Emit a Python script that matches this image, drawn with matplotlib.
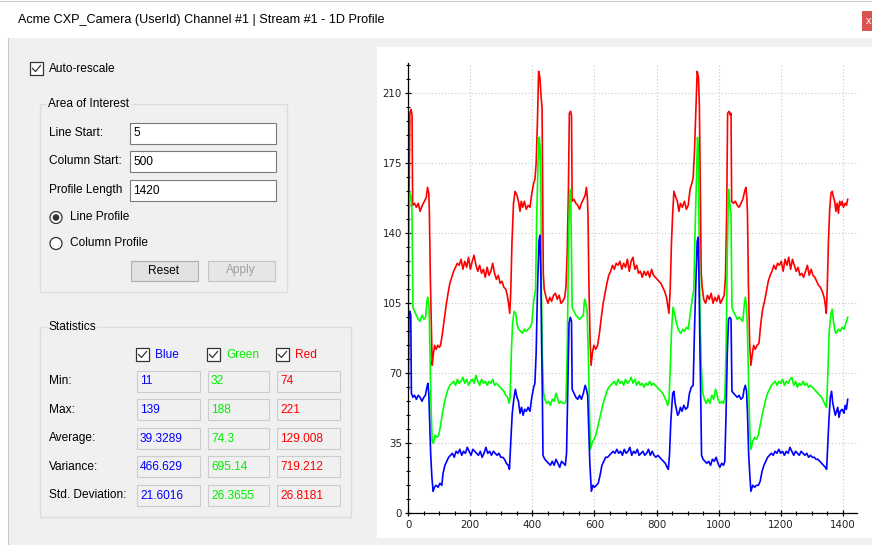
import numpy as np
import matplotlib
matplotlib.use("Agg")
import matplotlib.pyplot as plt
from matplotlib.patches import Rectangle, Circle
from matplotlib.ticker import MultipleLocator

# profile data (x = pixel column, y = grey level)
red_pts = [(2,150),(5,200),(9,202),(12,199),(14,154),(20,155),(26,153),(32,155),(38,151),(45,154),(52,156),(58,158),
    (62,163),(66,160),(68,150),(71,118),(74,95),(77,74),(81,80),(85,84),(90,82),(95,84),(100,83),(104,84),(110,90),
    (116,97),(122,104),(128,110),(134,115),(140,118),(146,121),(152,123),(158,125),(164,124),(170,127),(176,122),
    (182,126),(188,123),(194,128),(200,122),(206,126),(212,129),(218,124),(224,121),(230,124),(236,120),(242,122),
    (248,118),(254,123),(260,119),(266,121),(272,125),(278,120),(284,117),(290,119),(296,115),(302,116),(308,113),
    (314,112),(319,109),(323,105),(327,100),(330,110),(334,135),(339,155),(344,161),(350,159),(355,156),(360,151),
    (364,156),(369,153),(374,156),(380,152),(386,154),(392,153),(398,160),(404,165),(408,167),(412,175),(416,195),
    (420,221),(424,218),(428,208),(431,203),(433,160),(435,120),(438,112),(444,108),(450,105),(456,108),(462,106),
    (468,109),(474,110),(480,107),(486,109),(492,105),(498,106),(504,108),(508,113),(512,130),(516,162),(519,200),
    (523,201),(526,199),(528,156),(534,157),(540,155),(546,154),(552,152),(558,155),(564,157),(570,159),(574,163),
    (577,158),(579,150),(582,115),(586,85),(589,74),(593,80),(598,84),(604,82),(610,84),(616,90),(622,98),(628,105),
    (634,110),(640,115),(646,119),(652,121),(658,124),(664,122),(670,125),(676,124),(682,126),(688,122),(694,125),
    (700,123),(706,127),(712,121),(718,126),(724,128),(730,122),(736,124),(742,120),(748,121),(754,118),(760,121),
    (766,119),(772,121),(778,118),(784,122),(790,119),(796,118),(802,117),(808,116),(814,115),(820,113),(826,111),
    (832,108),(836,104),(840,100),(844,112),(848,135),(852,150),(856,161),(862,158),(867,156),(872,151),(877,155),
    (883,153),(890,156),(896,152),(902,154),(908,162),(914,165),(918,168),(922,180),(926,198),(931,221),(935,218),
    (938,204),(941,160),(944,120),(947,113),(952,107),(958,105),(964,109),(970,107),(976,110),(982,105),(988,108),
    (994,106),(1000,109),(1006,105),(1012,107),(1018,109),(1022,118),(1026,150),(1029,200),(1034,201),(1038,199),
    (1040,200),(1042,156),(1048,155),(1054,156),(1060,154),(1066,153),(1072,155),(1078,157),(1084,161),(1088,163),
    (1091,158),(1093,150),(1096,115),(1100,85),(1104,74),(1108,79),(1113,84),(1118,82),(1124,84),(1130,85),
    (1136,95),(1142,102),(1148,106),(1154,111),(1160,116),(1166,119),(1172,121),(1178,124),(1184,122),(1190,125),
    (1196,124),(1202,126),(1208,121),(1214,127),(1220,124),(1226,128),(1232,122),(1238,127),(1244,124),(1250,121),
    (1256,123),(1262,119),(1268,120),(1274,118),(1280,121),(1286,124),(1292,119),(1298,122),(1304,119),(1310,118),
    (1316,116),(1322,114),(1328,113),(1334,111),(1340,108),(1344,104),(1347,100),(1350,112),(1354,136),(1358,152),
    (1362,160),(1366,161),(1370,158),(1374,156),(1378,151),(1382,155),(1386,150),(1390,156),(1394,154),(1398,156),
    (1402,153),(1408,155),(1412,154),(1416,157)]

green_pts = [(0,100),(3,155),(6,160),(9,158),(12,150),(15,103),(20,101),(26,99),(32,97),(38,96),(44,99),(50,97),
    (56,98),(60,106),(63,108),(67,103),(70,80),(73,55),(77,36),(81,35),(86,39),(92,38),(98,39),(104,44),(110,50),
    (116,55),(122,59),(128,62),(134,64),(140,65),(146,66),(152,64),(158,67),(164,65),(170,66),(176,68),(182,65),
    (188,67),(194,64),(200,66),(206,67),(212,65),(218,69),(224,66),(230,64),(236,67),(242,65),(248,66),(254,64),
    (260,66),(266,65),(272,67),(278,64),(284,65),(290,64),(296,63),(302,62),(308,61),(314,59),(320,58),(325,55),
    (328,58),(332,80),(336,95),(341,101),(346,100),(351,94),(356,92),(362,91),(368,90),(374,92),(380,91),(386,92),
    (392,93),(398,95),(404,106),(410,112),(414,150),(418,175),(422,188),(425,182),(427,170),(429,112),(432,79),
    (436,60),(440,57),(446,55),(452,56),(458,54),(464,57),(470,56),(476,60),(480,58),(486,55),(492,56),(498,55),
    (504,55),(508,56),(512,79),(516,130),(520,160),(523,162),(526,130),(528,103),(534,101),(540,99),(546,98),
    (552,97),(558,98),(564,99),(568,107),(572,105),(576,102),(580,80),(584,50),(587,32),(592,35),(598,37),(604,39),
    (610,43),(616,47),(622,51),(628,55),(634,58),(640,61),(646,63),(652,64),(658,65),(664,66),(670,64),(676,67),
    (682,65),(688,66),(694,64),(700,67),(706,65),(712,66),(718,68),(724,65),(730,67),(736,64),(742,66),(748,64),
    (754,65),(760,63),(766,65),(772,64),(778,66),(784,64),(790,65),(796,64),(802,63),(808,62),(814,61),(820,60),
    (826,58),(832,56),(836,54),(840,56),(844,72),(848,90),(853,103),(858,100),(863,96),(868,93),(873,91),(878,90),
    (884,92),(890,91),(896,93),(902,92),(908,99),(914,106),(920,112),(924,140),(928,165),(932,188),(935,180),
    (937,140),(940,100),(944,75),(948,61),(954,57),(960,55),(966,57),(972,55),(978,59),(984,57),(990,62),(994,60),
    (998,57),(1004,55),(1010,56),(1016,55),(1020,58),(1024,80),(1028,130),(1032,162),(1036,155),(1040,150),
    (1043,103),(1048,101),(1054,99),(1060,97),(1066,98),(1072,97),(1078,96),(1082,103),(1086,108),(1090,104),
    (1093,90),(1097,62),(1101,40),(1104,32),(1110,36),(1116,38),(1122,37),(1128,39),(1134,44),(1140,49),(1146,53),
    (1152,57),(1158,60),(1164,62),(1170,64),(1176,65),(1182,66),(1188,64),(1194,66),(1200,65),(1206,67),(1212,64),
    (1218,66),(1224,65),(1230,67),(1236,68),(1242,64),(1248,66),(1254,63),(1260,65),(1266,64),(1272,66),(1278,64),
    (1284,65),(1290,63),(1296,64),(1302,63),(1308,62),(1314,61),(1320,60),(1326,59),(1332,58),(1338,56),(1344,54),
    (1348,53),(1352,70),(1356,90),(1362,100),(1366,102),(1370,96),(1374,92),(1378,90),(1382,91),(1386,92),
    (1392,91),(1398,93),(1404,92),(1410,95),(1416,98)]

blue_pts = [(0,62),(2,100),(5,101),(8,99),(10,60),(15,58),(20,59),(26,57),(32,59),(38,58),(44,56),(50,58),(55,59),
    (60,63),(63,65),(66,60),(69,45),(72,30),(76,18),(80,11),(84,13),(90,14),(96,13),(102,15),(108,14),(112,20),
    (118,24),(124,26),(130,28),(136,29),(142,30),(148,28),(154,31),(160,30),(166,32),(172,29),(178,31),(184,30),
    (190,33),(196,31),(202,29),(208,32),(214,31),(220,30),(226,29),(232,31),(238,28),(244,30),(250,33),(256,30),
    (262,31),(268,29),(274,31),(280,30),(286,29),(292,30),(298,28),(304,28),(310,27),(316,25),(322,24),(326,22),
    (330,35),(335,50),(340,57),(345,62),(350,58),(355,56),(360,50),(365,53),(370,49),(375,52),(380,51),(386,53),
    (392,51),(398,58),(404,63),(408,65),(412,80),(416,110),(421,136),(424,139),(427,120),(430,80),(432,60),(434,29),
    (440,27),(446,26),(452,25),(458,24),(464,26),(470,24),(476,27),(482,25),(488,23),(494,26),(500,25),(506,24),
    (510,30),(514,62),(518,95),(522,98),(526,96),(528,62),(534,60),(540,58),(546,57),(552,59),(558,57),(564,60),
    (570,64),(574,62),(578,59),(581,45),(585,25),(590,11),(595,14),(600,13),(606,14),(612,15),(618,19),(624,24),
    (630,26),(636,28),(642,28),(648,29),(654,30),(660,31),(666,30),(672,32),(678,30),(684,31),(690,29),(696,32),
    (702,30),(708,31),(714,33),(720,29),(726,31),(732,30),(738,32),(744,29),(750,30),(756,31),(762,29),(768,30),
    (774,32),(780,29),(786,31),(792,29),(798,28),(804,29),(810,28),(816,27),(822,26),(828,25),(834,23),(838,22),
    (842,30),(846,46),(852,60),(856,61),(860,55),(864,52),(868,49),(872,50),(877,53),(882,51),(888,54),(894,52),
    (900,53),(906,60),(912,63),(918,64),(922,90),(926,112),(931,136),(934,138),(937,115),(940,80),(942,62),(945,29),
    (950,27),(956,26),(962,25),(968,26),(974,24),(980,27),(986,26),(992,28),(998,25),(1004,23),(1010,25),(1016,24),
    (1020,26),(1024,50),(1028,80),(1032,97),(1036,98),(1040,97),(1043,61),(1048,60),(1054,59),(1060,58),(1066,59),
    (1072,57),(1078,58),(1082,62),(1086,64),(1090,61),(1093,50),(1097,29),(1101,18),(1104,11),(1110,14),(1116,13),
    (1122,14),(1128,14),(1134,16),(1140,21),(1146,24),(1152,26),(1158,28),(1164,29),(1170,30),(1176,29),(1182,31),
    (1188,30),(1194,32),(1200,30),(1206,31),(1212,29),(1218,31),(1224,30),(1230,33),(1236,31),(1242,29),(1248,31),
    (1254,30),(1260,29),(1266,31),(1272,30),(1278,29),(1284,30),(1290,28),(1296,29),(1302,28),(1308,28),(1314,27),
    (1320,27),(1326,26),(1332,25),(1338,24),(1344,23),(1348,22),(1352,35),(1356,48),(1360,58),(1364,61),(1368,55),
    (1372,52),(1376,49),(1380,51),(1384,53),(1388,48),(1392,51),(1398,52),(1404,50),(1408,54),(1412,52),(1416,57)]

# statistics panel
stat_rows = ["Min:", "Max:", "Average:", "Variance:", "Std. Deviation:"]
blue_stats = ["11", "139", "39.3289", "466.629", "21.6016"]
green_stats = ["32", "188", "74.3", "695.14", "26.3655"]
red_stats = ["74", "221", "129.008", "719.212", "26.8181"]

aoi_labels = ["Line Start:", "Column Start:", "Profile Length"]
aoi_values = ["5", "500", "1420"]

title = "Acme CXP_Camera (UserId) Channel #1 | Stream #1 - 1D Profile"

plt.rcParams["font.family"] = ["Liberation Sans", "DejaVu Sans"]
UI = 8.6
BG = "#f0f0f0"

fig = plt.figure(figsize=(8.72, 5.45), dpi=100)
bg = fig.add_axes([0, 0, 1, 1])
bg.set_xlim(0, 872)
bg.set_ylim(545, 0)
bg.axis("off")


def rect(x0, y0, x1, y1, fc, ec="none", lw=1):
    bg.add_patch(Rectangle((x0, y0), x1 - x0, y1 - y0, fc=fc, ec=ec, lw=lw))


def txt(x, y, s, color="#000000", size=UI, **kw):
    bg.text(x, y, s, color=color, fontsize=size, va="center", ha=kw.pop("ha", "left"), **kw)


def checkbox(x, y):
    rect(x, y, x + 13, y + 13, "white", "#333333", 0.9)
    bg.plot([x + 2.5, x + 5.5, x + 10.5], [y + 6.5, y + 9.5, y + 3.5], color="#333333", lw=0.9)


# window
rect(0, 0, 872, 545, "white")
rect(8, 38, 872, 545, BG)
bg.plot([7.5, 7.5], [38, 545], color="#c3cad3", lw=0.8)
bg.plot([0, 872], [0.5, 0.5], color="#c3cad3", lw=0.8)
txt(18, 20, title, size=9.1)
rect(862, 11, 872, 31, "#d9534f")
txt(866, 20.5, "x", color="white", size=8)

# auto-rescale
checkbox(30, 62)
txt(49, 69, "Auto-rescale")

# area of interest group
rect(39.5, 103.5, 286.5, 291.5, "none", "#dcdcdc")
txt(48, 104, "Area of Interest", bbox=dict(fc=BG, ec="none", pad=1))
for i, (lab, val) in enumerate(zip(aoi_labels, aoi_values)):
    yc = 133 + i * 28.5
    txt(49, yc, lab)
    rect(129.5, yc - 10.5, 275.5, yc + 10.5, "white", "#7a7a7a", 0.8)
    txt(133, yc + 0.5, val)

for i, lab in enumerate(["Line Profile", "Column Profile"]):
    yc = 217.5 + i * 26
    bg.add_patch(Circle((56, yc), 6, fc="white", ec="#333333", lw=0.9))
    if i == 0:
        bg.add_patch(Circle((56, yc), 3.3, fc="#333333", ec="none"))
    txt(70, yc, lab)

rect(130.5, 260.5, 197.5, 280.5, "#e1e1e1", "#adadad", 0.8)
txt(164, 270.5, "Reset", ha="center")
rect(207.5, 260.5, 274.5, 280.5, "#e6e6e6", "#c4c4c4", 0.8)
txt(241, 270.5, "Apply", color="#a0a0a0", ha="center")

# statistics group
rect(39.5, 326.5, 350.5, 516.5, "none", "#dcdcdc")
txt(48, 327, "Statistics", bbox=dict(fc=BG, ec="none", pad=1))
cols = [(136, 199, "#0000ff", "Blue", blue_stats),
        (207, 268, "#00ee00", "Green", green_stats),
        (276, 339, "#ff0000", "Red", red_stats)]
for x0, x1, col, name, vals in cols:
    checkbox(x0, 348)
    txt(x0 + 19, 355, name, color=col)
    for j, v in enumerate(vals):
        yc = 381 + j * 28.6
        rect(x0 + 0.5, yc - 10.5, x1 + 0.5, yc + 10.5, BG, "#cccccc", 0.8)
        txt(x0 + 4, yc + 0.5, v, color=col)
for j, lab in enumerate(stat_rows):
    txt(49, 381 + j * 28.6, lab)

# plot panel
rect(377, 47, 872, 538, "white")

ax = fig.add_axes([408.3 / 872, 1 - 513.3 / 545, (856.7 - 408.3) / 872, (513.3 - 63.3) / 545])
ax.patch.set_alpha(0)
for pts, col in [(red_pts, "#ff0000"), (green_pts, "#00ff00"), (blue_pts, "#0000ff")]:
    xs, ys = np.array(pts).T
    ax.plot(xs, ys, color=col, lw=1.2)

ax.set_xlim(0, 1445)
ax.set_ylim(0, 225)
ax.set_xticks(range(0, 1401, 200))
ax.set_yticks(range(0, 211, 35))
ax.xaxis.set_minor_locator(MultipleLocator(50))
ax.yaxis.set_minor_locator(MultipleLocator(7))
ax.grid(True, which="major", color="#c8c8c8", ls=(0, (1, 2)), lw=0.8)
ax.set_axisbelow(True)
for s in ["top", "right"]:
    ax.spines[s].set_visible(False)
for s in ["left", "bottom"]:
    ax.spines[s].set_linewidth(0.9)
ax.tick_params(which="major", direction="inout", length=5, width=0.9, labelsize=7.4,
               labelcolor="#222222", pad=2, labelfontfamily="DejaVu Sans")
ax.tick_params(which="minor", direction="inout", length=3, width=0.8)

fig.savefig("out.png", dpi=100)
